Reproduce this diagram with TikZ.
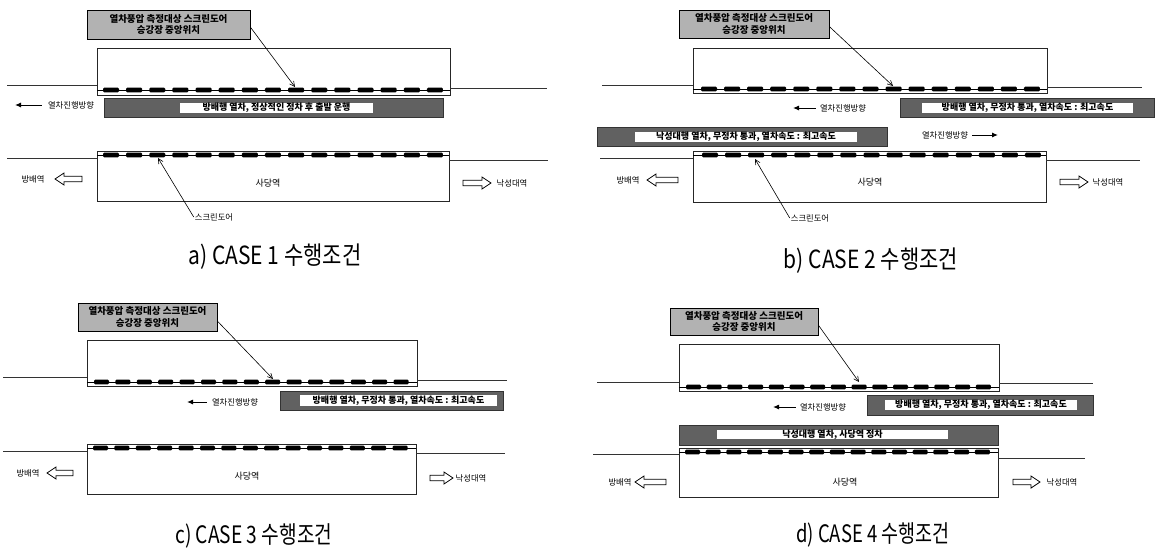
\documentclass[tikz,border=0pt]{standalone}
\usepackage{fontspec}
\setmainfont{Noto Sans CJK KR}
\usetikzlibrary{arrows.meta}
\newcommand\psdoors[4]{% x0, period, y, width
  \foreach \i in {0,...,14}{\fill[black,rounded corners=1.2pt] ({#1+\i*#2},#3-2.4) rectangle ++(#4,4.8);}}
\newcommand\hollowarr[3]{% tip x, tail x, y
  \pgfmathsetmacro\hd{#1<#2 ? 9 : -9}
  \draw[fill=white,line width=0.8pt] (#2,#3-2.8) -- ({#1+\hd},#3-2.8) -- ({#1+\hd},#3-6) -- (#1,#3) -- ({#1+\hd},#3+6) -- ({#1+\hd},#3+2.8) -- (#2,#3+2.8) -- cycle;}
\tikzset{
  plat/.style={draw=black!85,line width=0.8pt},
  track/.style={draw=black!80,line width=0.8pt},
  dline/.style={draw=black,line width=0.6pt},
  callout/.style={draw=black,line width=0.6pt,fill=black!30,align=center,inner sep=0pt,
    font=\fontsize{9.5}{11.5}\selectfont\bfseries},
  banner/.style={draw=black!80,fill=black!62,inner sep=0pt},
  bantext/.style={fill=white,inner sep=0pt,font=\fontsize{9}{9}\selectfont\bfseries},
  lab/.style={inner sep=0pt,font=\fontsize{8.3}{8.3}\selectfont},
  stn/.style={inner sep=0pt,font=\fontsize{9}{9}\selectfont},
  captn/.style={inner sep=0pt},
  ptr/.style={-{Straight Barb[length=5pt,width=5pt]},line width=0.6pt},
  dirarr/.style={-{Latex[length=6pt,width=5pt]},line width=1pt}
}
\newcommand\captext[3]{\scalebox{#1}[1]{\fontsize{#2}{#2}\selectfont #3}}
\begin{document}
\begin{tikzpicture}[x=1pt,y=-1pt]
\useasboundingbox[fill=white] (0,0) rectangle (1156,547);

% ================= Panel a =================
\draw[plat] (97,48) rectangle (450,95);
\draw[dline] (97,90) -- (450,90);
\psdoors{103}{23.14}{90}{16}
\draw[track] (7,85) -- (97,85);
\draw[track] (450,88) -- (547,88);
\node[callout,minimum width=163pt,minimum height=29pt] (ca) at (168.5,24.5) {열차풍압 측정대상 스크린도어\\승강장 중앙위치};
\coordinate (ta) at (295,87);
\draw[ptr] ([yshift=-2.5pt]ca.east) -- (ta);
\node[lab] (da) at (71,105) {열차진행방향};
\coordinate (dae) at (15,105);
\draw[dirarr] ([xshift=-6pt]da.west) -- (dae);
\node[banner,minimum width=339pt,minimum height=19pt] (ba) at (273.5,107.5) {};
\node[bantext,minimum width=193pt,minimum height=10.5pt] (bta) at (276.5,108) {방배행 열차, 정상적인 정차 후 출발 운행};
\draw[plat] (97,151) rectangle (449,201);
\draw[dline] (97,155) -- (449,155);
\psdoors{103}{23.14}{155}{16}
\draw[track] (7,158) -- (97,158);
\draw[track] (449,160) -- (548,160);
\node[lab] (wa) at (33,179) {방배역};
\hollowarr{55}{82}{179}
\node[stn] (sa) at (268,183) {사당역};
\hollowarr{491}{463}{183}
\node[lab] (ea) at (512,183) {낙성대역};
\node[lab] (sda) at (214,217) {스크린도어};
\coordinate (sdta) at (158,158);
\draw[ptr] ([xshift=-1pt]sda.west) -- (sdta);
\node[captn] (capa) at (275,257) {\captext{0.84}{25}{a) CASE 1 수행조건}};

% ================= Panel b =================
\draw[plat] (693,48) rectangle (1047,93);
\draw[dline] (693,89) -- (1047,89);
\psdoors{701}{23.07}{89}{16}
\draw[track] (602,85) -- (693,85);
\draw[track] (1047,87) -- (1142,87);
\node[callout,minimum width=150pt,minimum height=28pt] (cb) at (754,24) {열차풍압 측정대상 스크린도어\\승강장 중앙위치};
\coordinate (tb) at (893,86);
\draw[ptr] ([yshift=-2.5pt]cb.east) -- (tb);
\node[lab] (db) at (843,108) {열차진행방향};
\coordinate (dbe) at (793,108);
\draw[dirarr] ([xshift=-4pt]db.west) -- (dbe);
\node[banner,minimum width=254pt,minimum height=19pt] (bb) at (1027,107.5) {};
\node[bantext,minimum width=211pt,minimum height=10.5pt] (btb) at (1027.5,108) {방배행 열차, 무정차 통과, 열차속도 : 최고속도};
\node[banner,minimum width=290pt,minimum height=19pt] (bb2) at (742,136.5) {};
\node[bantext,minimum width=222pt,minimum height=10pt] (btb2) at (746,136.5) {낙성대행 열차, 무정차 통과, 열차속도 : 최고속도};
\node[lab] (db2) at (945,135) {열차진행방향};
\coordinate (db2e) at (998,135);
\draw[dirarr] ([xshift=4pt]db2.east) -- (db2e);
\draw[plat] (693,151) rectangle (1046,202);
\draw[dline] (693,155) -- (1046,155);
\psdoors{702}{23.07}{155}{16}
\draw[track] (600,158) -- (693,158);
\draw[track] (1046,160) -- (1140,160);
\node[lab] (wb) at (628,180) {방배역};
\hollowarr{647}{678}{180}
\node[stn] (sb) at (870,182) {사당역};
\hollowarr{1088}{1060}{182}
\node[lab] (eb) at (1108,182) {낙성대역};
\node[lab] (sdb) at (810,218) {스크린도어};
\coordinate (sdtb) at (755,159);
\draw[ptr] ([xshift=-1pt]sdb.west) -- (sdtb);
\node[captn] (capb) at (871,261) {\captext{0.84}{25}{b) CASE 2 수행조건}};

% ================= Panel c =================
\draw[plat] (87,340) rectangle (417,386);
\draw[dline] (87,382) -- (417,382);
\psdoors{94}{21.4}{382}{15}
\draw[track] (3,377) -- (87,377);
\draw[track] (417,380) -- (507,380);
\node[callout,minimum width=139pt,minimum height=28pt] (cc) at (147.5,317) {열차풍압 측정대상 스크린도어\\승강장 중앙위치};
\coordinate (tc) at (273,379);
\draw[ptr] ([yshift=-4pt]cc.east) -- (tc);
\node[lab] (dc) at (235,402) {열차진행방향};
\coordinate (dce) at (187,402);
\draw[dirarr] ([xshift=-5pt]dc.west) -- (dce);
\node[banner,minimum width=223pt,minimum height=19pt] (bc) at (391.5,400.5) {};
\node[bantext,minimum width=197pt,minimum height=11pt] (btc) at (398.5,400.5) {방배행 열차, 무정차 통과, 열차속도 : 최고속도};
\draw[plat] (87,444) rectangle (416,494);
\draw[dline] (87,448) -- (416,448);
\psdoors{93}{21.4}{448}{15}
\draw[track] (3,451) -- (87,451);
\draw[track] (416,453) -- (505,453);
\node[lab] (wc) at (28,473) {방배역};
\hollowarr{47}{73}{473}
\node[stn] (sc) at (247,476) {사당역};
\hollowarr{453}{430}{478}
\node[lab] (ec) at (471,478) {낙성대역};
\node[captn] (capc) at (254,536) {\captext{0.8}{24}{c) CASE 3 수행조건}};

% ================= Panel d =================
\draw[plat] (679,344) rectangle (999,391);
\draw[dline] (679,387) -- (999,387);
\psdoors{686}{20.7}{387}{15}
\draw[track] (597,382) -- (679,382);
\draw[track] (999,383) -- (1093,383);
\node[callout,minimum width=148pt,minimum height=27pt] (cd) at (744,321.5) {열차풍압 측정대상 스크린도어\\승강장 중앙위치};
\coordinate (td) at (859,382);
\draw[ptr] ([yshift=-3.5pt]cd.east) -- (td);
\node[lab] (dd) at (823,407) {열차진행방향};
\coordinate (dde) at (773,407);
\draw[dirarr] ([xshift=-4pt]dd.west) -- (dde);
\node[banner,minimum width=226pt,minimum height=20pt] (bd) at (980,405) {};
\node[bantext,minimum width=192pt,minimum height=10.5pt] (btd) at (981,405) {방배행 열차, 무정차 통과, 열차속도 : 최고속도};
\node[banner,minimum width=319pt,minimum height=20pt] (bd2) at (838.5,435) {};
\node[bantext,minimum width=231pt,minimum height=9.5pt] (btd2) at (832.5,434.5) {낙성대행 열차, 사당역 정차};
\draw[plat] (679,448) rectangle (998,497);
\draw[dline] (679,452) -- (998,452);
\psdoors{685}{20.7}{452}{15}
\draw[track] (593,454) -- (679,454);
\draw[track] (998,458) -- (1085,458);
\node[lab] (wd) at (620,482) {방배역};
\hollowarr{635}{666}{482}
\node[stn] (sd) at (845,482) {사당역};
\hollowarr{1040}{1013}{482}
\node[lab] (ed) at (1062,482) {낙성대역};
\node[captn] (capd) at (873,535) {\captext{0.77}{24}{d) CASE 4 수행조건}};
\end{tikzpicture}
\end{document}
